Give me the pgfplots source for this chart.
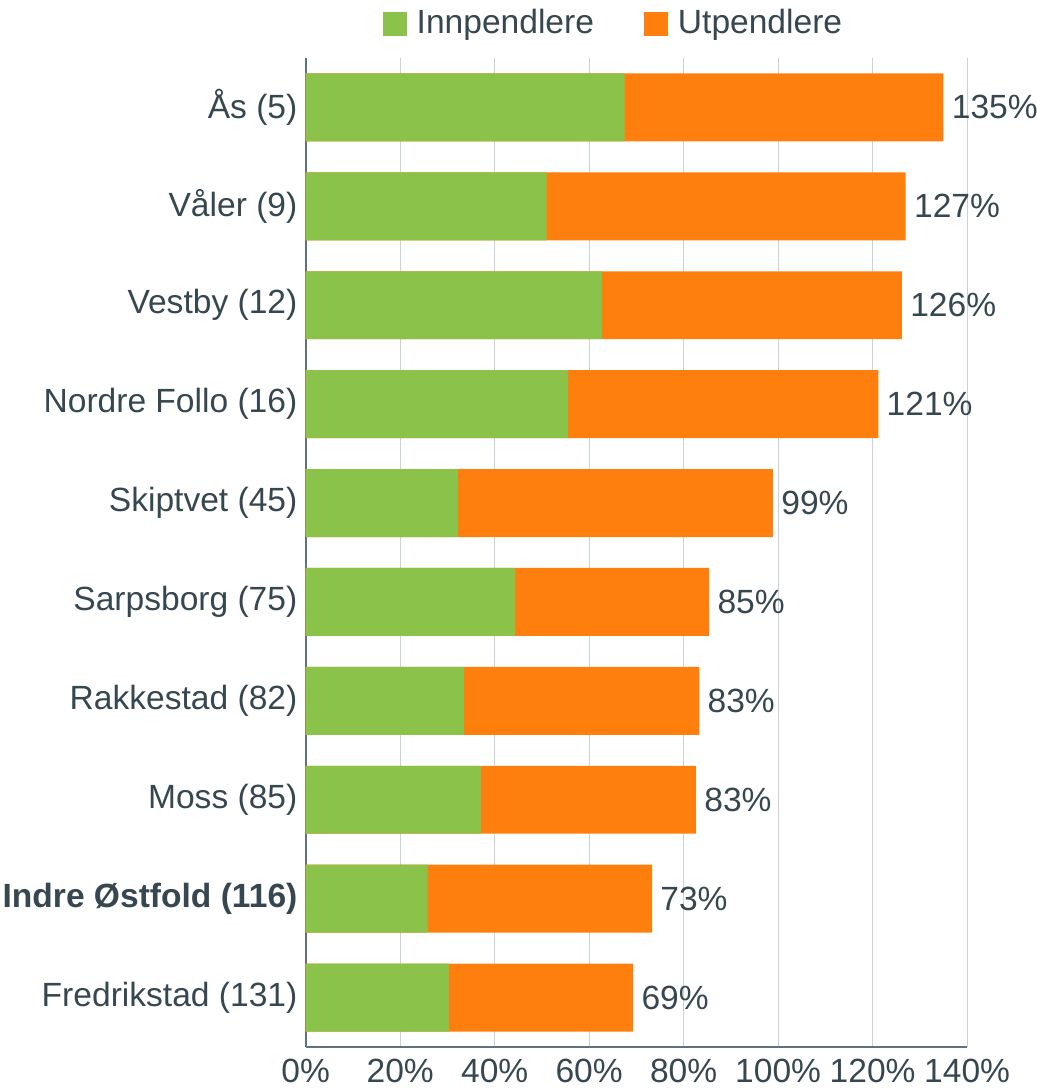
\documentclass[border=0pt]{standalone}
\usepackage{pgfplots}
\usepackage{pgfplotstable}
\pgfplotsset{compat=1.18}
\usepackage{fontspec}
\setmainfont{Liberation Sans}
\definecolor{cgreen}{HTML}{8BC34A}
\definecolor{corange}{HTML}{FF7F0E}
\definecolor{ctext}{HTML}{37474F}
\definecolor{cgrid}{HTML}{C9D1D9}
\definecolor{caxis}{HTML}{5F7282}
% inn = innpendlere, ut = utpendlere, tot = sum (bar end), lab = printed total
\pgfplotstableread{
y inn ut tot lab
0 67.5 67.5 135.0 135
1 51.0 76.0 127.0 127
2 62.7 63.5 126.2 126
3 55.5 65.7 121.2 121
4 32.2 66.7 98.9 99
5 44.3 41.1 85.4 85
6 33.5 49.8 83.3 83
7 37.1 45.5 82.6 83
8 25.8 47.5 73.3 73
9 30.3 39.0 69.3 69
}\data
\begin{document}%
\fontsize{16.5}{19}\selectfont%
\begin{tikzpicture}
\begin{axis}[
  xbar,
  scale only axis,
  width=331pt, height=495pt,
  xmin=0, xmax=140, ymin=-0.5, ymax=9.5, y dir=reverse,
  bar width=34pt, bar shift=0pt,
  xtick={0,20,...,140},
  xticklabel={\pgfmathprintnumber{\tick}\%},
  /pgf/number format/assume math mode=true,
  ytick={0,...,9},
  yticklabels={Ås (5), Våler (9), Vestby (12), Nordre Follo (16), Skiptvet (45), Sarpsborg (75), Rakkestad (82), Moss (85), \textbf{Indre Østfold (116)}, Fredrikstad (131)},
  major tick length=0pt,
  axis x line*=bottom, axis y line*=left,
  axis line style={caxis, line width=1pt},
  xmajorgrids, major grid style={cgrid, line width=0.6pt},
  tick label style={text=ctext, font=\fontsize{16.8}{19}\selectfont},
  yticklabel style={inner sep=0pt, xshift=-4pt},
  xticklabel style={inner sep=0pt, yshift=-6pt, anchor=north},
  legend style={at={(0.5,1)}, anchor=south, xshift=-11pt, yshift=5.5pt, draw=none,
    font=\fontsize{16.8}{19}\selectfont, text=ctext, legend columns=2,
    /tikz/every odd column/.append style={column sep=3pt},
    /tikz/every even column/.append style={column sep=23pt}},
  legend image code/.code={\fill[#1] (0pt,-6pt) rectangle (12pt,6pt);},
  legend cell align=left,
]
\addlegendimage{fill=cgreen, draw=none}
\addlegendentry{Innpendlere}
\addlegendimage{fill=corange, draw=none}
\addlegendentry{Utpendlere}
\addplot[fill=corange, draw=none, forget plot, point meta=explicit,
  nodes near coords={\pgfmathprintnumber{\pgfplotspointmeta}\%},
  every node near coord/.append style={anchor=west, text=ctext, inner sep=0pt, xshift=4pt,
    font=\fontsize{16.8}{19}\selectfont}]
  table[x=tot, y=y, meta=lab] {\data};
\addplot[fill=cgreen, draw=none, forget plot] table[x=inn, y=y] {\data};
\end{axis}
\pgfresetboundingbox
\path[use as bounding box] ([shift={(-153pt,-21.5pt)}]current axis.south west) rectangle ([shift={(34.5pt,29pt)}]current axis.north east);
\end{tikzpicture}%
\end{document}
